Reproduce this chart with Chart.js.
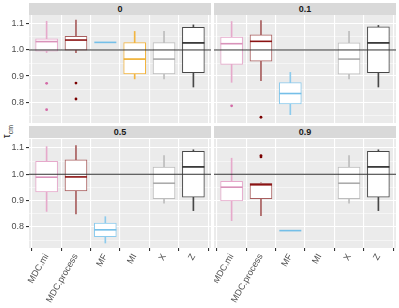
<!DOCTYPE html>
<html>
<head>
<meta charset="utf-8">
<script src="https://cdn.jsdelivr.net/npm/chart.js@4.4.1/dist/chart.umd.min.js"></script>
<style>
  body { margin: 0; background: #fff; width: 399px; height: 308px; position: relative; overflow: hidden; font-family: "Liberation Sans", Arial, sans-serif; }
  canvas { position: absolute; }
  .strip { position: absolute; background: #d9d9d9; color: #1a1a1a; font-weight: bold; font-size: 9px; text-align: center; line-height: 12px; height: 12px; }
  #ylab { position: absolute; left: -2px; top: 125px; transform: rotate(-90deg); transform-origin: center; font-size: 10px; color: #1a1a1a; width: 18px; text-align: center; }
  #ylab sub { font-size: 7px; }
</style>
</head>
<body>
<div class="strip" style="left:29px;top:3px;width:182px;">0</div>
<div class="strip" style="left:214px;top:3px;width:182px;">0.1</div>
<div class="strip" style="left:29px;top:126px;width:182px;">0.5</div>
<div class="strip" style="left:214px;top:126px;width:182px;">0.9</div>
<div id="ylab">τ<sub>cm</sub></div>
<canvas id="p05" width="211" height="169" style="left:0;top:139px;"></canvas>
<canvas id="p09" width="182" height="169" style="left:214px;top:139px;"></canvas>
<canvas id="p0" width="211" height="168" style="left:0;top:15px;"></canvas>
<canvas id="p01" width="182" height="168" style="left:214px;top:15px;"></canvas>
<script>
// --- Data ---
const categories = ['MDC.mi', 'MDC.process', 'MF', 'MI', 'X', 'Z'];
const yTicks = [0.75, 0.8, 0.85, 0.9, 0.95, 1.0, 1.05, 1.1];
const refLine = 1.0;

// [lower whisker, q1, median, q3, upper whisker] per category, null = no data
const stats0 = [
    [0.990, 0.995, 1.032, 1.043, 1.110],
    [0.990, 0.999, 1.038, 1.052, 1.115],
    [1.029, 1.029, 1.029, 1.029, 1.029],
    [0.889, 0.908, 0.965, 1.028, 1.071],
    [0.889, 0.908, 0.965, 1.028, 1.071],
    [0.858, 0.913, 1.027, 1.087, 1.096]
];
const stats01 = [
    [0.876, 0.945, 1.024, 1.049, 1.109],
    [0.882, 0.957, 1.033, 1.058, 1.113],
    [0.752, 0.793, 0.833, 0.875, 0.914],
    null,
    [0.889, 0.907, 0.965, 1.027, 1.071],
    [0.858, 0.913, 1.027, 1.089, 1.094]
];
const stats05 = [
    [0.859, 0.933, 0.989, 1.049, 1.105],
    [0.849, 0.937, 0.990, 1.055, 1.109],
    [0.739, 0.763, 0.789, 0.815, 0.839],
    null,
    [0.890, 0.907, 0.966, 1.027, 1.071],
    [0.862, 0.913, 1.028, 1.087, 1.093]
];
const stats09 = [
    [0.824, 0.899, 0.951, 0.973, 1.061],
    [0.843, 0.907, 0.960, 0.966, 0.968],
    [0.786, 0.786, 0.786, 0.786, 0.786],
    null,
    [0.890, 0.907, 0.966, 1.027, 1.071],
    [0.862, 0.913, 1.028, 1.087, 1.093]
];
// outliers: [category index, value]
const outliers0 = [[0, 0.872], [0, 0.771], [1, 0.873], [1, 0.812]];
const outliers01 = [[0, 0.786], [1, 0.742]];
const outliers05 = [];
const outliers09 = [[1, 1.071], [1, 1.066]];

const boxColors = ['#e6a9cb', '#a85e5e', '#8ccbed', '#f2b540', '#bdbdbd', '#474747'];
const medianColors = ['#d993ba', '#8b1212', '#74bfe8', '#efad2a', '#ababab', '#222222'];
const pointColors = ['#d46aa7', '#7a0000', '#74bfe8', '#efad2a', '#ababab', '#222222'];

const tickColor = '#4d4d4d';
const clear = 'rgba(0,0,0,0)';

function isMajor(v) {
    return Math.abs(v * 10 - Math.round(v * 10)) < 1e-6;
}

// pick a colour from a per-category list, safe for dataset-level contexts
function pick(list) {
    return c => (c.raw ? list[c.raw.x] : list[0]);
}

// every panel is built the same way; the top row just hides its x labels,
// and its canvas hangs down behind the lower panels
function makeChart(id, stats, outliers, showY, showX, xHeight) {
    const ctx = document.getElementById(id).getContext('2d');
    const idx = stats.map((s, i) => s ? i : -1).filter(i => i >= 0);

    return new Chart(ctx, {
        type: 'bar',
        data: {
            datasets: [
                {
                    type: 'bar',
                    order: 4,
                    grouped: false,
                    barThickness: 1,
                    data: idx.map(i => ({x: i, y: [stats[i][0], stats[i][4]]})),
                    backgroundColor: pick(boxColors),
                    borderWidth: 0
                },
                {
                    type: 'bar',
                    order: 3,
                    grouped: false,
                    barThickness: 22,
                    data: idx.map(i => ({x: i, y: [stats[i][1], stats[i][3]]})),
                    backgroundColor: '#ffffff',
                    borderColor: pick(boxColors),
                    borderWidth: 1,
                    borderSkipped: false
                },
                {
                    type: 'line',
                    order: 2,
                    showLine: false,
                    data: idx.map(i => ({x: i, y: stats[i][2]})),
                    pointStyle: 'line',
                    pointRadius: 11,
                    pointBorderWidth: 1.6,
                    pointBorderColor: pick(medianColors)
                },
                {
                    type: 'line',
                    order: 1,
                    showLine: false,
                    data: outliers.map(o => ({x: o[0], y: o[1]})),
                    pointStyle: 'circle',
                    pointRadius: 1.4,
                    pointBorderWidth: 0,
                    pointBackgroundColor: pick(pointColors)
                },
                {
                    type: 'line',
                    order: 0,
                    data: [{x: -0.6, y: refLine}, {x: 5.6, y: refLine}],
                    borderColor: '#333333',
                    borderWidth: 1,
                    pointRadius: 0
                }
            ]
        },
        options: {
            responsive: false,
            animation: false,
            events: [],
            layout: { padding: 0, autoPadding: false },
            plugins: {
                legend: { display: false },
                tooltip: { enabled: false }
            },
            scales: {
                x: {
                    type: 'linear',
                    min: -0.6,
                    max: 5.6,
                    offset: false,
                    afterBuildTicks: s => { s.ticks = categories.map((c, i) => ({value: i})); },
                    afterFit: s => {
                        s.height = xHeight;
                        s.paddingLeft = 0; s.paddingRight = 0;
                        s.paddingTop = 0; s.paddingBottom = 0;
                    },
                    border: { display: false },
                    grid: {
                        color: '#ffffff',
                        lineWidth: 1.1,
                        drawTicks: true,
                        tickLength: 3,
                        tickColor: showX ? '#333333' : clear
                    },
                    ticks: {
                        autoSkip: false,
                        minRotation: 60,
                        maxRotation: 60,
                        padding: 1,
                        color: showX ? tickColor : clear,
                        font: { family: '"Liberation Sans", Arial, sans-serif', size: 9 },
                        callback: v => categories[v]
                    }
                },
                y: {
                    min: 0.720,
                    max: 1.134,
                    afterBuildTicks: s => { s.ticks = yTicks.map(v => ({value: v})); },
                    afterFit: s => {
                        s.width = showY ? 29 : 0;
                        s.paddingTop = 0; s.paddingBottom = 0;
                        s.paddingLeft = 0; s.paddingRight = 0;
                    },
                    border: { display: false },
                    grid: {
                        color: '#ffffff',
                        lineWidth: c => (c.tick && isMajor(c.tick.value)) ? 1.1 : 0.5,
                        drawTicks: showY,
                        tickLength: 3,
                        tickColor: c => (c.tick && isMajor(c.tick.value)) ? '#333333' : clear
                    },
                    ticks: {
                        display: showY,
                        padding: 2,
                        color: tickColor,
                        font: { family: '"Liberation Sans", Arial, sans-serif', size: 9 },
                        callback: v => isMajor(v) ? v.toFixed(1) : ''
                    }
                }
            }
        },
        plugins: [{
            id: 'panelBg',
            beforeDraw: chart => {
                const a = chart.chartArea;
                const g = chart.ctx;
                g.save();
                g.fillStyle = '#ebebeb';
                g.fillRect(a.left, a.top, a.right - a.left, a.bottom - a.top);
                g.restore();
            }
        }]
    });
}

makeChart('p05', stats05, outliers05, true, true, 60);
makeChart('p09', stats09, outliers09, false, true, 60);
makeChart('p0', stats0, outliers0, true, false, 60);
makeChart('p01', stats01, outliers01, false, false, 60);
</script>
</body>
</html>
